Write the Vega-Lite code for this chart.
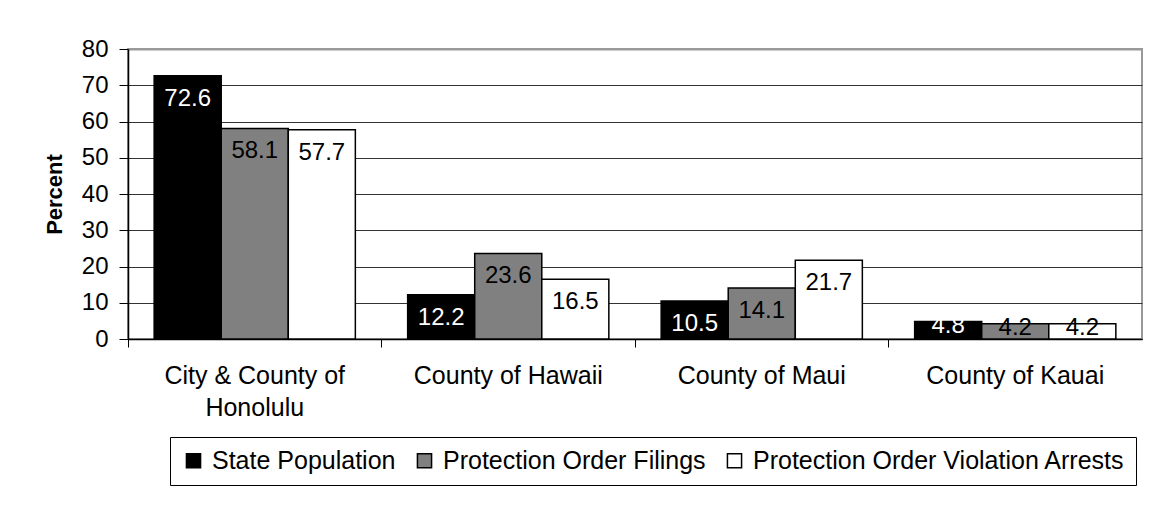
{
  "$schema": "https://vega.github.io/schema/vega-lite/v6.json",
  "width": 1014,
  "height": 290,
  "autosize": {"type": "none"},
  "padding": {"left": 128, "top": 49, "right": 18, "bottom": 167},
  "background": "#ffffff",
  "data": {
    "values": [
      {"region": "City & County of Honolulu", "series": "State Population", "value": 72.6},
      {"region": "City & County of Honolulu", "series": "Protection Order Filings", "value": 58.1},
      {"region": "City & County of Honolulu", "series": "Protection Order Violation Arrests", "value": 57.7},
      {"region": "County of Hawaii", "series": "State Population", "value": 12.2},
      {"region": "County of Hawaii", "series": "Protection Order Filings", "value": 23.6},
      {"region": "County of Hawaii", "series": "Protection Order Violation Arrests", "value": 16.5},
      {"region": "County of Maui", "series": "State Population", "value": 10.5},
      {"region": "County of Maui", "series": "Protection Order Filings", "value": 14.1},
      {"region": "County of Maui", "series": "Protection Order Violation Arrests", "value": 21.7},
      {"region": "County of Kauai", "series": "State Population", "value": 4.8},
      {"region": "County of Kauai", "series": "Protection Order Filings", "value": 4.2},
      {"region": "County of Kauai", "series": "Protection Order Violation Arrests", "value": 4.2}
    ]
  },
  "encoding": {
    "x": {
      "field": "region",
      "type": "nominal",
      "sort": ["City & County of Honolulu", "County of Hawaii", "County of Maui", "County of Kauai"],
      "scale": {"paddingInner": 0, "paddingOuter": 0},
      "axis": {
        "title": null,
        "labelAngle": 0,
        "labelFont": "Liberation Sans",
        "labelFontSize": 25,
        "labelColor": "#000",
        "labelLineHeight": 32,
        "labelPadding": 16,
        "labelBaseline": "top",
        "labelLimit": 1000,
        "labelExpr": "datum.label == 'City & County of Honolulu' ? ['City & County of', 'Honolulu'] : datum.label",
        "bandPosition": 0,
        "ticks": true,
        "tickSize": 8,
        "tickColor": "#000",
        "domainColor": "#000",
        "domainWidth": 1.5,
        "grid": false
      }
    },
    "xOffset": {
      "field": "series",
      "type": "nominal",
      "sort": ["State Population", "Protection Order Filings", "Protection Order Violation Arrests"],
      "scale": {"paddingInner": 0, "paddingOuter": 0.39}
    },
    "y": {
      "field": "value",
      "type": "quantitative",
      "scale": {"domain": [0, 80], "nice": false},
      "axis": {
        "title": "Percent",
        "titleFont": "Liberation Sans",
        "titleFontSize": 22,
        "titleFontWeight": "bold",
        "titleColor": "#000",
        "titlePadding": 15,
        "values": [0, 10, 20, 30, 40, 50, 60, 70, 80],
        "labelFont": "Liberation Sans",
        "labelFontSize": 24,
        "labelColor": "#000",
        "labelPadding": 11,
        "tickSize": 9,
        "tickColor": "#000",
        "domainColor": "#000",
        "domainWidth": 1.5,
        "grid": true,
        "gridColor": {"condition": {"test": "datum.value === 80", "value": "#999999"}, "value": "#333333"},
        "gridWidth": {"condition": {"test": "datum.value === 80", "value": 2}, "value": 1}
      }
    }
  },
  "layer": [
    {
      "mark": {"type": "bar", "stroke": "#000", "strokeWidth": 1.5},
      "encoding": {
        "fill": {
          "field": "series",
          "type": "nominal",
          "scale": {
            "domain": ["State Population", "Protection Order Filings", "Protection Order Violation Arrests"],
            "range": ["#000000", "#808080", "#ffffff"]
          },
          "legend": {
            "title": null,
            "orient": "none",
            "legendX": 42,
            "legendY": 388,
            "direction": "horizontal",
            "strokeColor": "#000",
            "fillColor": "#fff",
            "padding": 11,
            "columnPadding": 16,
            "symbolType": "square",
            "symbolSize": 200,
            "symbolStrokeColor": "#000",
            "symbolStrokeWidth": 1.5,
            "symbolOpacity": 1,
            "labelFont": "Liberation Sans",
            "labelFontSize": 25,
            "labelColor": "#000",
            "labelOffset": 6,
            "labelLimit": 600
          }
        }
      }
    },
    {
      "transform": [{"filter": "datum.value >= 8"}],
      "mark": {"type": "text", "font": "Liberation Sans", "fontSize": 24, "baseline": "middle", "align": "center", "dy": 23},
      "encoding": {
        "text": {"field": "value", "type": "quantitative", "format": ".1f"},
        "color": {
          "condition": {"test": "datum.series === 'State Population'", "value": "#ffffff"},
          "value": "#000000"
        }
      }
    },
    {
      "transform": [{"filter": "datum.value < 8"}],
      "mark": {"type": "text", "font": "Liberation Sans", "fontSize": 24, "baseline": "middle", "align": "center", "dy": 4},
      "encoding": {
        "text": {"field": "value", "type": "quantitative", "format": ".1f"},
        "color": {
          "condition": {"test": "datum.series === 'State Population'", "value": "#ffffff"},
          "value": "#000000"
        }
      }
    }
  ],
  "config": {
    "view": {"stroke": "#999999", "strokeWidth": 2},
    "axis": {"labelFont": "Liberation Sans", "titleFont": "Liberation Sans"}
  }
}
